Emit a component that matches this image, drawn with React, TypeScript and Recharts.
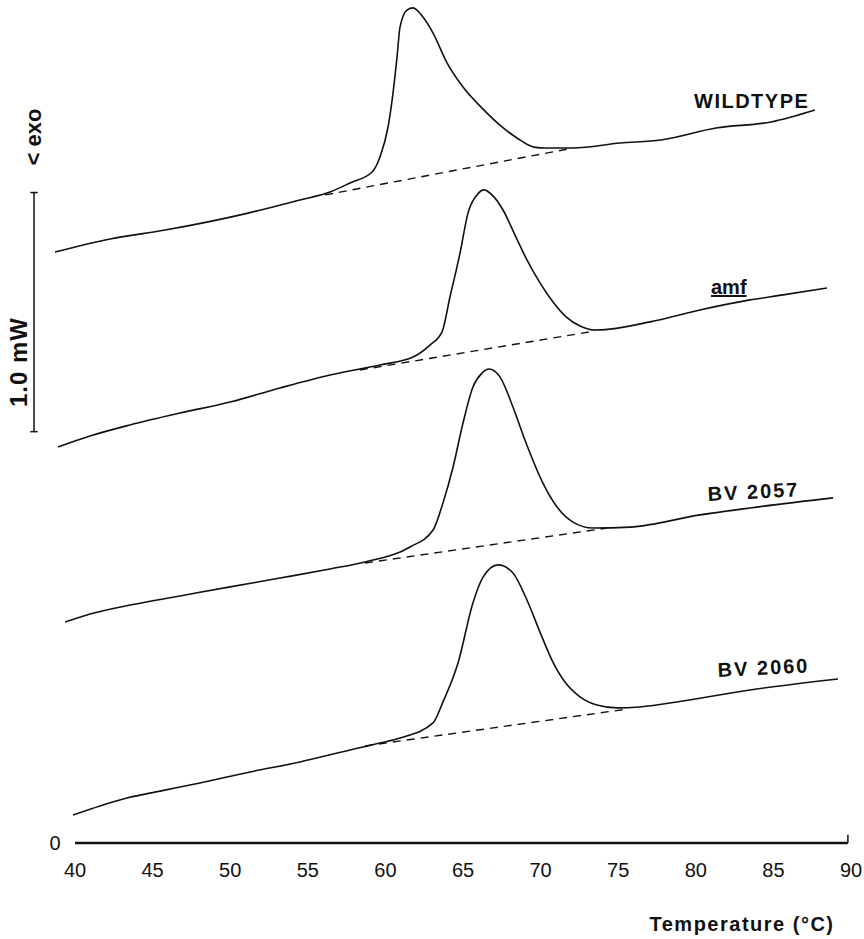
import React from 'react';
import { LineChart, Line, XAxis, YAxis, ReferenceLine } from 'recharts';

// Temperature (°C) and heat-flow offset values (mW, stacked traces)
const wildtypeT = [38.71, 42.26, 45.8, 51.15, 54.5, 56.43, 57.72, 59.14, 59.65, 60.17, 60.49, 60.75, 60.94, 61.39, 61.78, 62.42, 63.07, 63.97, 65.0, 66.29, 67.38, 68.48, 69.57, 70.28, 72.09, 75.12, 77.76, 81.3, 84.85, 87.68];
const wildtypeV = [2.471, 2.526, 2.563, 2.634, 2.689, 2.722, 2.76, 2.806, 2.869, 2.994, 3.136, 3.287, 3.412, 3.483, 3.492, 3.454, 3.387, 3.262, 3.161, 3.069, 3.002, 2.948, 2.91, 2.906, 2.906, 2.927, 2.94, 2.99, 3.015, 3.065];

const amfT = [38.9, 40.97, 43.54, 46.77, 49.99, 53.21, 56.43, 59.65, 61.78, 62.87, 63.65, 64.16, 64.81, 65.32, 65.9, 66.35, 66.93, 67.58, 68.35, 69.12, 69.96, 70.8, 71.64, 72.54, 73.51, 74.47, 77.05, 80.27, 83.49, 85.62, 88.45];
const amfV = [1.656, 1.702, 1.748, 1.798, 1.844, 1.903, 1.957, 1.999, 2.032, 2.082, 2.137, 2.283, 2.467, 2.634, 2.71, 2.731, 2.706, 2.647, 2.542, 2.438, 2.342, 2.262, 2.2, 2.162, 2.145, 2.149, 2.179, 2.229, 2.271, 2.292, 2.321];

const bv2057T = [39.36, 40.97, 43.54, 46.77, 49.99, 53.21, 56.43, 58.69, 61.59, 63.07, 63.71, 64.36, 65.0, 65.64, 66.22, 66.68, 67.38, 68.22, 68.99, 70.15, 71.06, 72.09, 73.38, 75.76, 80.27, 83.49, 88.84];
const bv2057V = [0.924, 0.958, 0.995, 1.033, 1.071, 1.108, 1.146, 1.175, 1.238, 1.309, 1.422, 1.572, 1.756, 1.907, 1.965, 1.982, 1.949, 1.823, 1.685, 1.505, 1.405, 1.342, 1.317, 1.321, 1.372, 1.401, 1.443];

const bv2060T = [39.87, 41.61, 43.35, 45.48, 48.05, 51.28, 54.5, 57.72, 59.65, 60.94, 63.07, 63.71, 64.68, 65.64, 66.29, 67.26, 68.22, 69.12, 69.96, 70.73, 71.57, 72.54, 73.63, 74.92, 76.4, 79.18, 83.49, 89.16];
const bv2060V = [0.117, 0.155, 0.188, 0.217, 0.251, 0.297, 0.339, 0.389, 0.418, 0.439, 0.502, 0.59, 0.753, 1.004, 1.112, 1.163, 1.129, 1.016, 0.882, 0.765, 0.673, 0.611, 0.577, 0.565, 0.569, 0.594, 0.64, 0.686];

// dashed interpolated baselines (start, end)
const wildtypeBaseT = [56.11, 72.09];
const wildtypeBaseV = [2.71, 2.906];
const amfBaseT = [58.36, 73.51];
const amfBaseV = [1.978, 2.141];
const bv2057BaseT = [58.69, 74.28];
const bv2057BaseV = [1.171, 1.317];
const bv2060BaseT = [58.69, 75.57];
const bv2060BaseV = [0.406, 0.56];

const xTicks = [40, 45, 50, 55, 60, 65, 70, 75, 80, 85, 90];
const scaleBarT = 37.36;
const scaleBarV = [1.72, 2.72];

const toRows = (t: number[], v: number[]) => t.map((x, i) => ({ t: x, v: v[i] }));

const INK = '#111';
const FONT = '"Liberation Sans", Arial, Helvetica, sans-serif';

const solid = [
  toRows(wildtypeT, wildtypeV),
  toRows(amfT, amfV),
  toRows(bv2057T, bv2057V),
  toRows(bv2060T, bv2060V),
];
const dashed = [
  toRows(wildtypeBaseT, wildtypeBaseV),
  toRows(amfBaseT, amfBaseV),
  toRows(bv2057BaseT, bv2057BaseV),
  toRows(bv2060BaseT, bv2060BaseV),
];

export default function App() {
  return (
    <div style={{ position: 'absolute', left: 0, top: 0, width: 864, height: 939, background: '#fff' }}>
      <LineChart width={864} height={939} margin={{ top: 6, right: 13, bottom: 66, left: 28.44 }}>
        <XAxis
          dataKey="t"
          type="number"
          domain={[37, 90]}
          allowDataOverflow
          ticks={xTicks}
          axisLine={false}
          tickLine={false}
          tickSize={0}
          tickMargin={20}
          height={30}
          interval={0}
          tick={{ fontSize: 20, fill: INK, fontFamily: FONT }}
        />
        <YAxis type="number" domain={[0, 3.5]} allowDataOverflow hide />
        {solid.map((rows, i) => (
          <Line
            key={'s' + i}
            data={rows}
            dataKey="v"
            type="monotone"
            dot={false}
            stroke={INK}
            strokeWidth={1.6}
            isAnimationActive={false}
          />
        ))}
        {dashed.map((rows, i) => (
          <Line
            key={'d' + i}
            data={rows}
            dataKey="v"
            type="linear"
            dot={false}
            stroke={INK}
            strokeWidth={1.4}
            strokeDasharray="8 6"
            isAnimationActive={false}
          />
        ))}
        <ReferenceLine segment={[{ x: 40, y: 0 }, { x: 89.8, y: 0 }]} stroke={INK} strokeWidth={2.5} ifOverflow="visible" />
        <ReferenceLine segment={[{ x: 89.8, y: 0 }, { x: 89.8, y: 0.035 }]} stroke={INK} strokeWidth={1.5} ifOverflow="visible" />
        <ReferenceLine segment={[{ x: scaleBarT, y: scaleBarV[0] }, { x: scaleBarT, y: scaleBarV[1] }]} stroke={INK} strokeWidth={1.5} ifOverflow="visible" />
        <ReferenceLine segment={[{ x: 37.12, y: scaleBarV[0] }, { x: 37.6, y: scaleBarV[0] }]} stroke={INK} strokeWidth={1.5} ifOverflow="visible" />
        <ReferenceLine segment={[{ x: 37.12, y: scaleBarV[1] }, { x: 37.6, y: scaleBarV[1] }]} stroke={INK} strokeWidth={1.5} ifOverflow="visible" />
      </LineChart>
      <svg width={864} height={939} style={{ position: 'absolute', left: 0, top: 0, pointerEvents: 'none' }}>
        <g fontFamily={FONT} fill={INK}>
          <text x={55} y={843} fontSize={20} textAnchor="middle" dominantBaseline="central">0</text>
          <text x={694} y={108} fontSize={20} fontWeight="bold" letterSpacing={1.5}>WILDTYPE</text>
          <text x={711} y={294} fontSize={20} fontWeight="bold" textDecoration="underline">amf</text>
          <text x={708} y={501} fontSize={20} fontWeight="bold" letterSpacing={2} transform="rotate(-3 708 501)">BV 2057</text>
          <text x={718} y={677} fontSize={20} fontWeight="bold" letterSpacing={2} transform="rotate(-3 718 677)">BV 2060</text>
          <text x={742} y={931} fontSize={20} fontWeight="bold" letterSpacing={1.5} textAnchor="middle">Temperature (°C)</text>
          <text x={0} y={0} fontSize={22} fontWeight="bold" textAnchor="middle" dominantBaseline="central" transform="translate(33 137) rotate(-90)">{'< exo'}</text>
          <text x={0} y={0} fontSize={24} fontWeight="bold" textAnchor="middle" dominantBaseline="central" letterSpacing={1} transform="translate(18 362) rotate(-90)">1.0 mW</text>
        </g>
      </svg>
    </div>
  );
}
